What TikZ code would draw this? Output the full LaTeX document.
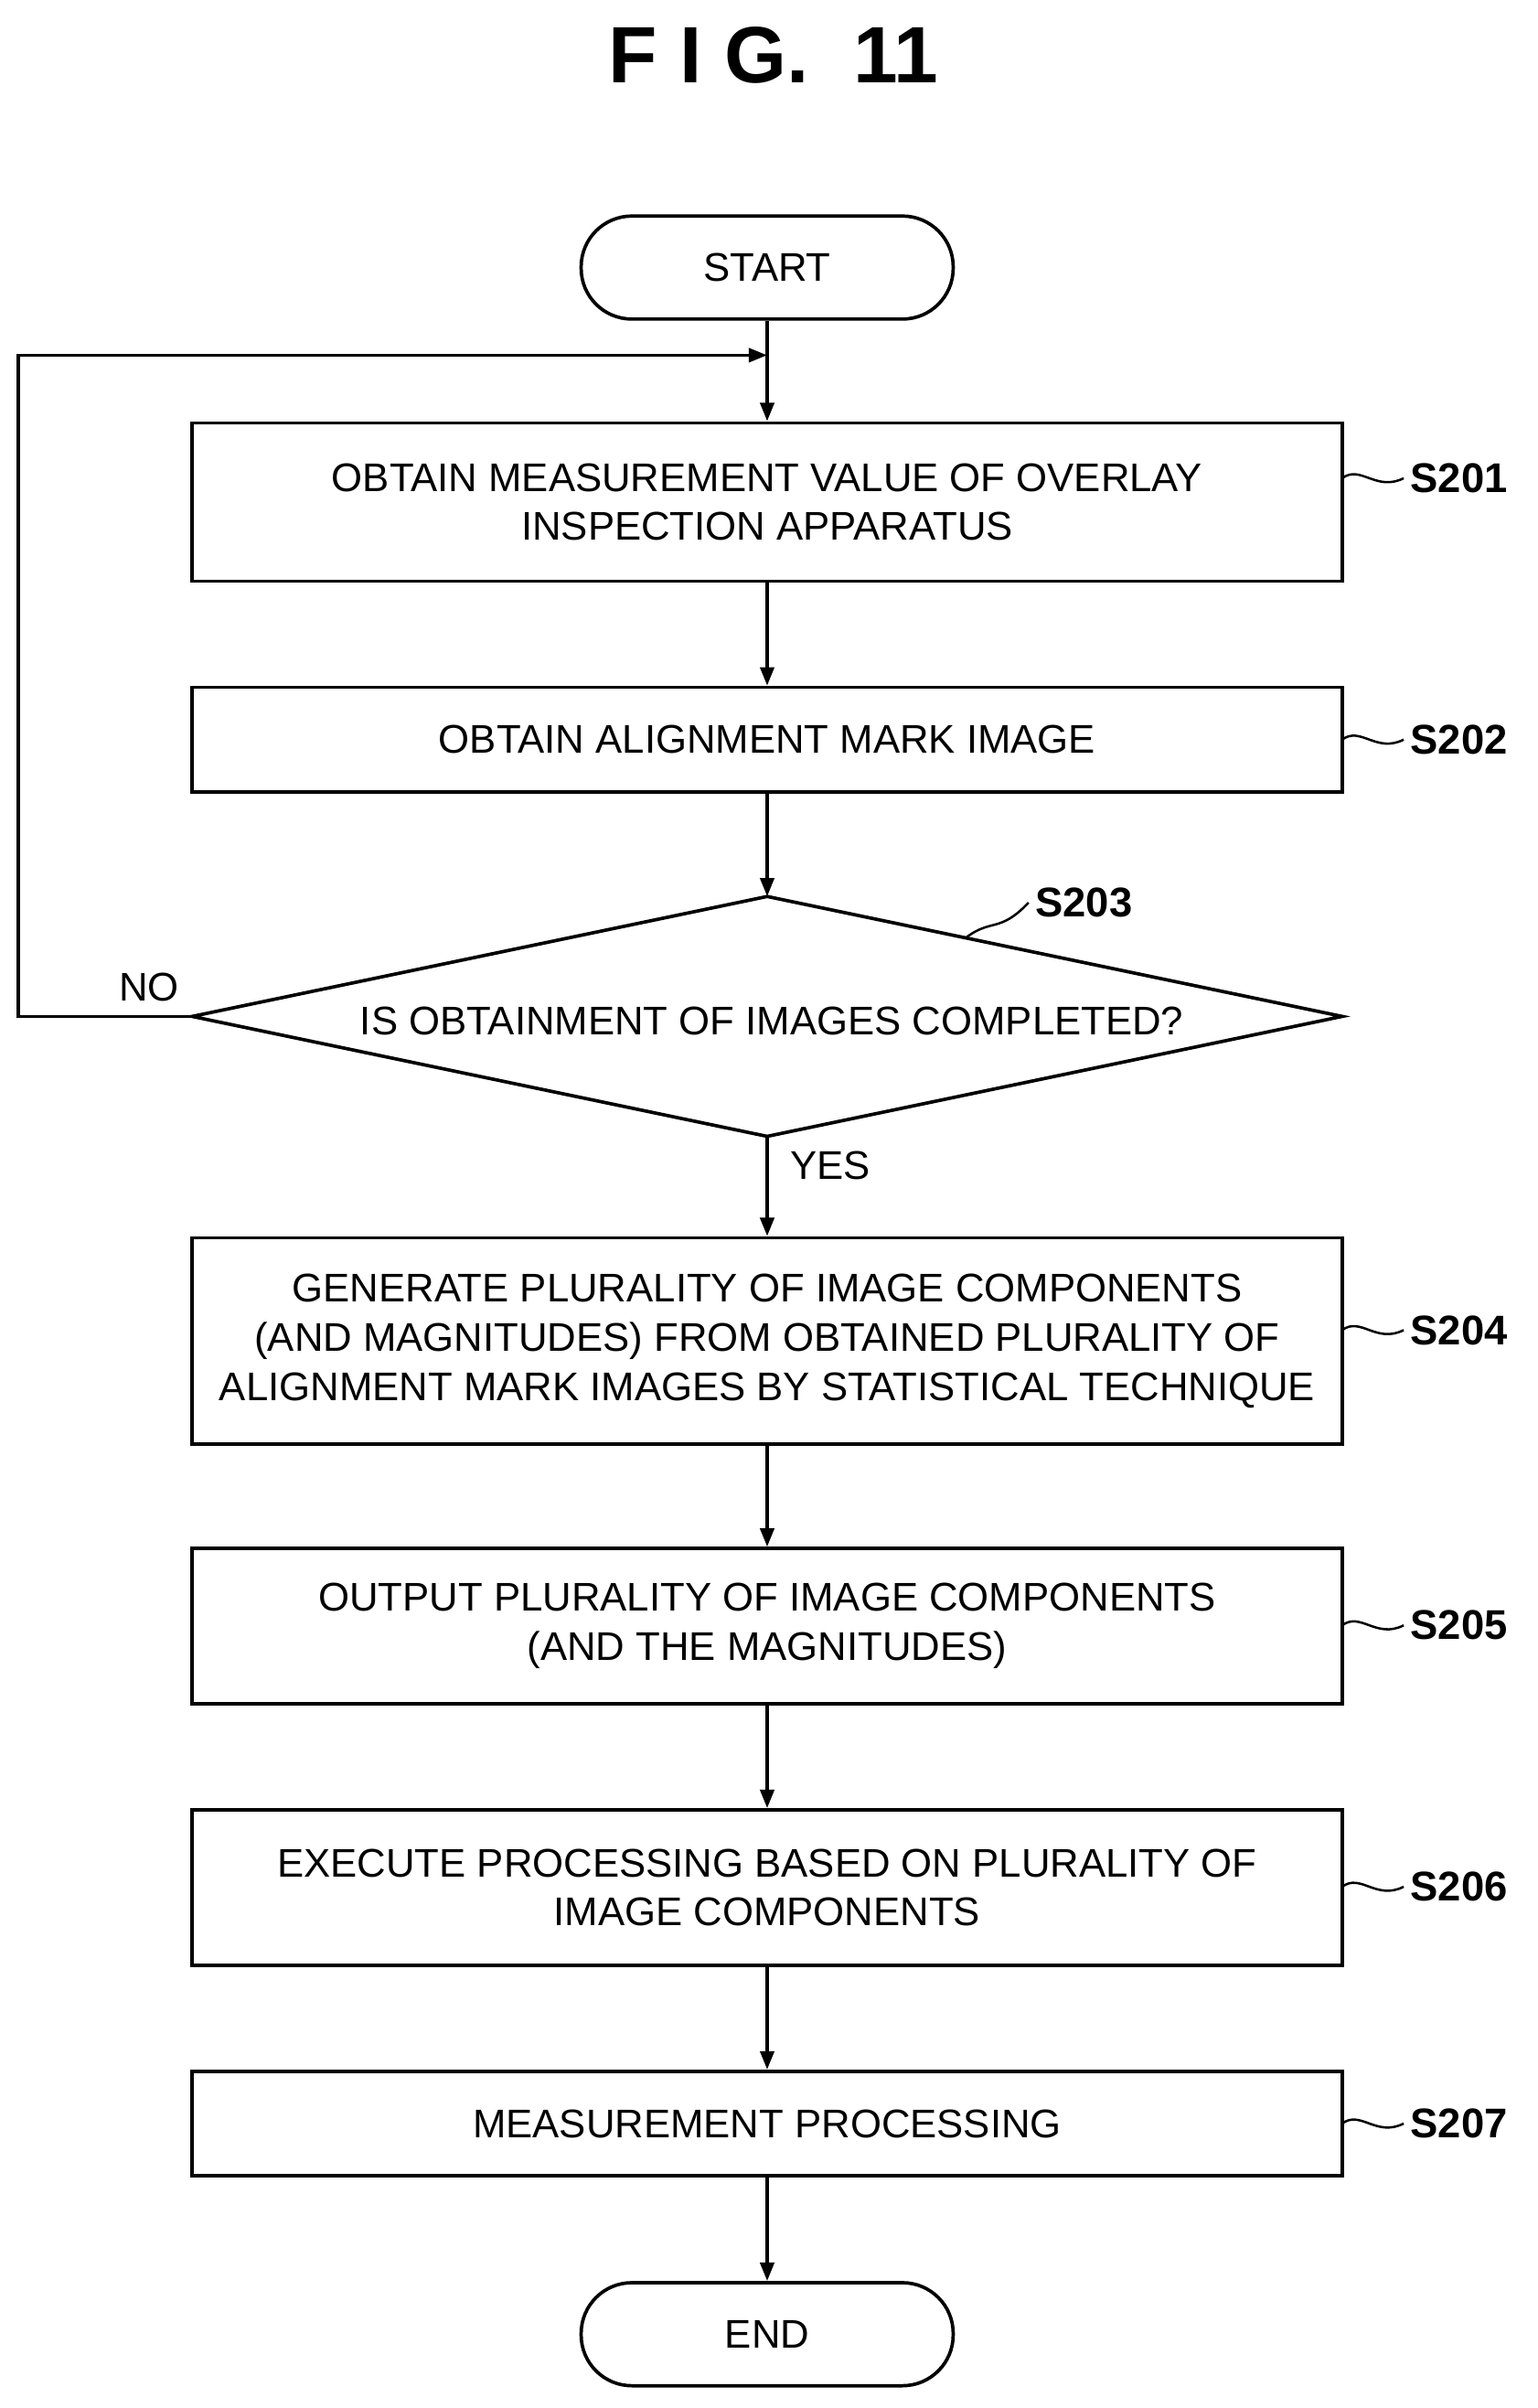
\documentclass[tikz,border=0pt]{standalone}
\usepackage{fontspec}
\setmainfont{Liberation Sans}
\usetikzlibrary{shapes.geometric,arrows.meta}
\begin{document}
\begin{tikzpicture}[x=1pt,y=-1pt,line width=2.2pt,
  box/.style={draw,rectangle,minimum width=748pt,align=center,font=\fontsize{26}{32}\selectfont,inner sep=0pt},
  term/.style={draw,rounded corners=33pt,minimum width=242pt,minimum height=67pt,font=\fontsize{26}{32}\selectfont},
  lab/.style={font=\bfseries\fontsize{27}{32}\selectfont},
  arr/.style={-{Triangle[length=12pt,width=9pt]}},
  tl/.style={font=\fontsize{26}{32}\selectfont}]
\useasboundingbox (0,0) rectangle (1000,1566);
\node[font=\bfseries\fontsize{52}{60}\selectfont] (title) at (503,36) {F I G.\ \ 11};
\node[term] (start) at (499,174) {START};
\node[box,minimum height=103pt] (s201) at (499,326.5) {OBTAIN MEASUREMENT VALUE OF OVERLAY\\INSPECTION APPARATUS};
\node[box,minimum height=68pt] (s202) at (499,481) {OBTAIN ALIGNMENT MARK IMAGE};
\coordinate (dt) at (499,583); \coordinate (db) at (499,739);
\coordinate (dl) at (125,661); \coordinate (dr) at (873,661);
\draw (dt) -- (dr) -- (db) -- (dl) -- cycle;
\node[tl] (dq) at (502,664) {IS OBTAINMENT OF IMAGES COMPLETED?};
\node[box,minimum height=134pt] (s204) at (499,872) {GENERATE PLURALITY OF IMAGE COMPONENTS\\(AND MAGNITUDES) FROM OBTAINED PLURALITY OF\\ALIGNMENT MARK IMAGES BY STATISTICAL TECHNIQUE};
\node[box,minimum height=101pt] (s205) at (499,1057.5) {OUTPUT PLURALITY OF IMAGE COMPONENTS\\(AND THE MAGNITUDES)};
\node[box,minimum height=101pt] (s206) at (499,1227.5) {EXECUTE PROCESSING BASED ON PLURALITY OF\\IMAGE COMPONENTS};
\node[box,minimum height=68pt] (s207) at (499,1381) {MEASUREMENT PROCESSING};
\node[term] (end) at (499,1518) {END};
\coordinate (j) at (499,231); \coordinate (c1) at (12,661); \coordinate (c2) at (12,231);
\draw (start) -- (j);
\draw[arr] (j) -- (s201);
\draw[arr] (dl) -- (c1) -- (c2) -- (j);
\draw[arr] (s201) -- (s202);
\draw[arr] (s202) -- (dt);
\draw[arr] (db) -- (s204);
\draw[arr] (s204) -- (s205);
\draw[arr] (s205) -- (s206);
\draw[arr] (s206) -- (s207);
\draw[arr] (s207) -- (end);
\node[tl] (no) at (97,642) {NO};
\node[tl] (yes) at (540,758) {YES};
\foreach \n/\y in {201/311,202/481,204/865,205/1057,206/1227,207/1381}{
  \node[lab,anchor=west] (l\n) at (913,\y) {S\n};
  \draw[line width=1.5pt] (873,\y) .. controls (885,\y-9) and (895,\y+9) .. (l\n.west);
}
\node[lab] (l203) at (705,587) {S203};
\draw[line width=1.5pt] (628,610) .. controls (645,597) and (650,607) .. (l203.west);
\end{tikzpicture}
\end{document}
